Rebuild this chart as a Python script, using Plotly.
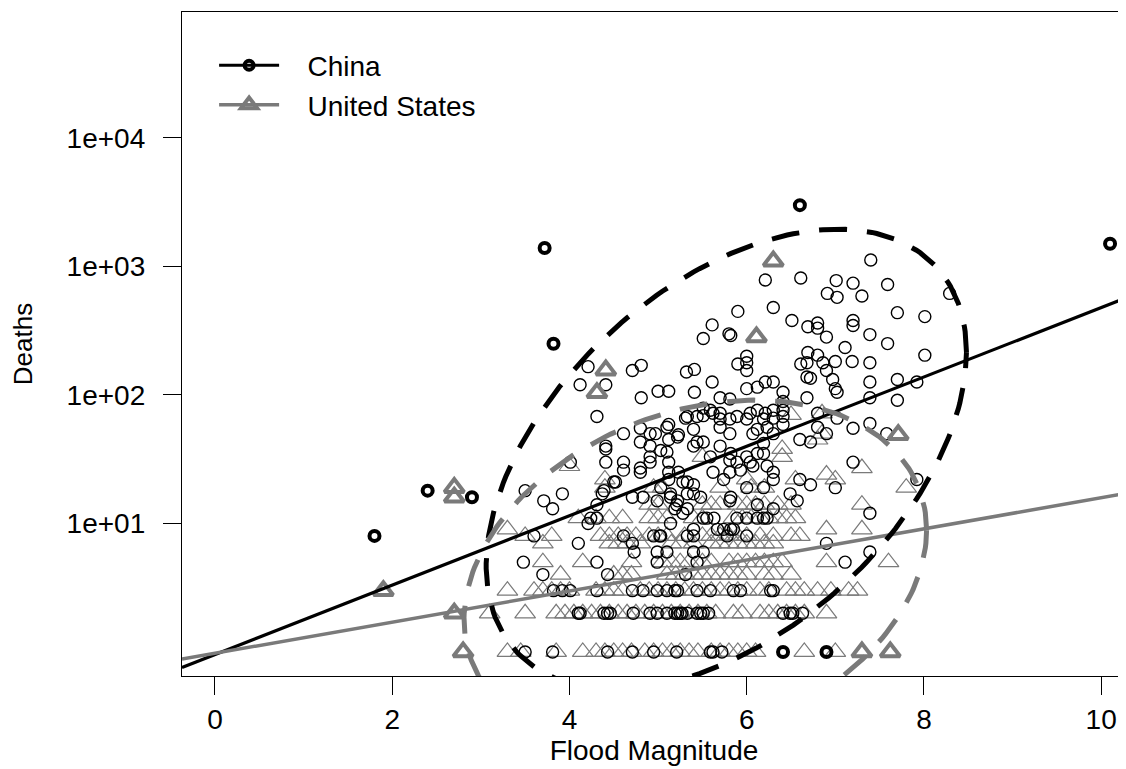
import numpy as np
import plotly.graph_objects as go

# ---------------- data ----------------
china_mag = [
    6.21, 6.61, 5.90, 6.30, 6.51, 6.69, 5.61, 5.51, 5.80, 5.82, 6.0, 6.0, 6.0, 5.9, 6.69, 6.61, 6.68, 4.71, 4.81, 5.32,
    5.41, 5.61, 4.41, 5.0, 5.12, 4.81, 5.41, 6.0, 6.12, 6.21, 6.30, 6.41, 6.41, 6.41, 5.81, 5.70, 4.31, 5.33, 5.59, 5.70,
    5.70, 6.12, 6.21, 6.30, 5.89, 6.0, 6.68,
    4.21, 4.12, 5.44, 4.8, 4.91, 5.12, 5.23, 4.61, 5.4, 5.44, 4.41, 4.41, 4.80, 4.91, 5.12, 5.1, 4.61, 4.80, 4.91, 5.12,
    5.12, 5.23, 4.01, 5.28, 5.4, 5.33, 4.5, 4.71, 4.83, 4.99, 5.14, 5.19, 5.28, 3.5, 3.71, 3.92, 3.81, 4.21, 4.31, 4.37,
    4.10, 3.6, 3.48, 4.31, 4.43, 3.7, 5.4, 5.02, 4.99, 5.1, 5.44, 4.31, 4.71, 4.83, 4.99, 5.44, 3.82, 4.12, 4.43, 4.72,
    4.91, 5.25, 5.44, 4.43, 4.71, 3.5, 3.81,
    6.80, 6.80, 6.9, 7.2, 7.2, 7.39, 7.59, 7.7, 8.01, 8.01, 7.11, 6.80, 6.68, 6.86, 7.0, 6.9, 7.19, 7.39, 6.72, 6.97,
    7.0, 7.39, 7.7, 7.92, 7.39, 7.7,
    4.97, 5.1, 5.22, 5.31, 5.51, 5.51, 5.62, 5.70, 5.40, 5.51, 5.59, 5.70, 5.81, 5.81, 6.04, 6.19, 6.23, 6.12, 6.07, 6.30,
    6.41, 6.41, 5.81, 6.0, 6.04, 5.93, 5.62, 5.81, 6.19, 6.23, 6.07, 6.60, 6.72, 6.80, 6.9, 6.80, 7.2, 7.39, 7.58, 7.2,
    6.30, 6.30, 6.60, 6.72, 7.0, 7.92, 5.48, 5.22, 5.12, 5.03, 5.14, 6.0, 5.81, 7.39, 6.0, 6.19, 6.23, 5.55, 5.67, 5.78,
    5.85, 5.14, 5.03, 4.95, 6.0, 5.40, 5.51, 6.9, 7.39, 4.99, 7.11, 5.1, 5.22, 5.59, 5.93, 6.30, 5.1, 5.22, 5.33, 5.48,
    5.57, 6.41, 6.52, 6.63, 5.62, 5.72, 4.95,
    7.40, 7.01, 7.2, 6.91, 7.02, 7.30, 7.59, 8.29, 7.02, 7.02,
    4.41, 4.61, 4.91, 5.03, 4.80, 5.33, 5.21, 5.33, 5.40, 5.82, 5.89, 6.12, 6.19, 6.30, 6.19, 6.49, 6.57, 6.30, 6.12, 5.89,
    5.82, 5.74, 5.63, 5.51, 5.40, 5.33, 4.61, 4.71, 4.52, 4.39, 4.31, 4.24, 5.31, 4.73, 6.12, 5.74, 5.82, 4.39, 4.46, 4.99,
    5.19, 5.27, 5.51, 6.49, 5.19, 5.85, 6.27, 5.21, 5.59,
    3.92, 4.01, 4.10,
]
china_deaths = [
    785, 813, 447, 479, 380, 339, 351, 275, 299, 290, 200, 178, 155, 174, 214, 174, 138, 155, 170, 151,
    158, 126, 120, 107, 107, 95, 105, 112, 115, 126, 126, 105, 89, 76, 93, 95, 68, 68, 76, 72,
    65, 76, 72, 76, 68, 65, 95,
    166, 120, 68, 55, 50, 59, 49, 50, 54, 43, 40, 30, 43, 40, 45, 36, 30, 27, 30, 30,
    25, 25, 30, 21, 20, 17, 21, 16, 16, 15, 16, 13, 12, 18, 15, 17, 13, 10, 11, 17,
    7, 8, 5, 5, 4, 4, 8, 8, 6, 6, 5, 3, 3, 3, 3, 3, 3, 2, 2, 2,
    2, 2, 2, 1, 1, 1, 1,
    363, 331, 282, 380, 347, 295, 251, 437, 407, 204, 234, 204, 178, 178, 182, 155, 182, 178, 135, 132,
    112, 126, 132, 126, 95, 91,
    50, 56, 47, 66, 69, 79, 72, 56, 40, 43, 33, 40, 65, 50, 72, 65, 56, 54, 50, 66,
    68, 59, 31, 33, 30, 26, 25, 25, 35, 28, 28, 45, 43, 72, 50, 56, 55, 60, 50, 30,
    25, 22, 22, 20, 19, 22, 16, 15, 22, 19, 17, 19, 15, 12, 11, 11, 11, 11, 9, 8,
    9, 10, 8, 8, 8, 6, 6, 7, 6, 5, 5, 3, 3, 3, 3, 3, 2, 2, 2, 2,
    2, 2, 2, 2, 1, 1, 1,
    1122, 776, 741, 617, 575, 589, 724, 617, 105, 66,
    38, 26, 33, 37, 25, 21, 14, 13, 17, 35, 30, 35, 42, 50, 19, 17, 15, 13, 11, 11,
    9, 9, 11, 11, 9, 8, 8, 7, 21, 18, 14, 11, 4, 6, 14, 22, 16, 2, 2, 2,
    2, 2, 2, 2, 3, 3, 3, 1, 1,
    3, 3, 2,
]

china_out_mag = [1.8, 2.4, 2.9, 3.72, 3.82, 6.6, 10.1, 6.41, 6.9]
china_out_deaths = [8, 18, 16, 1390, 250, 3000, 1500, 1, 1]

us_mag = [
    # deaths 1
    3.3, 3.45, 3.85, 4.15, 4.3, 4.4, 4.5, 4.6, 4.7, 4.85, 4.95, 5.05, 5.15, 5.25, 5.35, 5.45, 5.6, 5.7, 5.8, 5.9,
    6.0, 6.1, 6.65, 7.0,
    # deaths 2
    3.1, 3.5, 3.85, 3.95, 4.05, 4.15, 4.25, 4.35, 4.45, 4.55, 4.65, 4.75, 4.85, 4.95, 5.05, 5.15, 5.25, 5.35, 5.45, 5.55,
    5.65, 5.85, 5.95, 6.15, 6.25, 6.35, 6.45, 6.55, 6.65, 6.9,
    # deaths 3
    3.3, 3.6, 3.7, 3.8, 3.9, 4.0, 4.3, 4.4, 4.5, 4.6, 4.8, 4.9, 5.0, 5.1, 5.2, 5.3, 5.4, 5.5, 5.6, 5.7,
    5.8, 5.9, 6.0, 6.15, 6.25, 6.45, 6.55, 6.65, 6.8, 6.95, 7.15, 7.25,
    # deaths 4
    3.9, 4.5, 4.6, 4.7, 5.1, 5.2, 5.3, 5.4, 5.5, 5.6, 5.7, 5.8, 5.9, 6.0, 6.2, 6.3, 6.5,
    # deaths 5
    3.7, 4.15, 4.7, 5.05, 5.15, 5.25, 5.35, 5.5, 5.6, 5.8, 5.9, 6.0, 6.1, 6.2, 6.3, 6.4, 6.9, 7.6,
    # deaths 7
    3.7, 4.45, 4.55, 4.65, 4.8, 5.15, 5.25, 5.4, 5.6, 5.7, 5.8, 5.9, 6.0, 6.1, 6.2, 6.3,
    # deaths 8
    3.5, 3.8, 4.35, 4.45, 4.55, 4.65, 4.75, 4.9, 5.0, 5.1, 5.3, 5.5, 5.6, 5.7, 5.8, 5.9, 6.0, 6.15, 6.3, 6.5,
    6.6,
    # deaths 9
    3.3, 6.9, 7.3,
    # deaths 11
    4.1, 4.3, 4.45, 4.6, 4.9, 5.0, 5.1, 5.4, 5.5, 5.85, 5.95, 6.05, 6.15, 6.25, 6.35, 6.45, 6.55,
    # deaths 14
    4.9, 5.0, 5.5, 5.6, 5.7, 5.9, 6.0, 6.1, 6.2, 6.35, 6.5, 7.3,
    # deaths 19
    4.4, 4.95, 5.05, 5.7, 6.05, 6.2, 7.8,
    # higher
    4.4, 6.0, 6.55, 6.9, 7.0, 7.3, 4.0, 5.5, 6.4, 6.4, 6.8, 6.85, 6.5, 6.85,
]
us_deaths = (
    [1] * 24 + [2] * 30 + [3] * 32 + [4] * 17 + [5] * 18 + [7] * 16 + [8] * 21 + [9] * 3
    + [11] * 17 + [14] * 12 + [19] * 7
    + [22, 22, 22, 24, 22, 27, 28, 33, 33, 38, 45, 50, 70, 72]
)

us_out_mag = [1.9, 2.7, 2.7, 2.7, 2.8, 4.31, 4.41, 6.11, 6.3, 7.71, 7.3, 7.62]
us_out_deaths = [3, 19, 16, 2, 1, 104, 156, 282, 1100, 49, 1, 1]

# regression lines: log10(deaths) = intercept + slope * magnitude
china_fit = (-0.02, 0.27)
us_fit = (-0.01, 0.121)

# ellipses in (magnitude, log10 deaths): centre x, centre y, half-width, half-height, phase
china_ellipse = (5.77, 1.50, 2.71, 1.79, 1.088)
us_ellipse = (5.42, 0.60, 2.61, 1.36, 1.311)

x_ticks = [0, 2, 4, 6, 8, 10]
y_ticks = [10, 100, 1000, 10000]
y_tick_text = ["1e+01", "1e+02", "1e+03", "1e+04"]
x_range = [-0.372, 10.28]
y_range_log = [-0.187, 4.98]
legend_names = ["China", "United States"]

BLACK = "#000000"
GRAY = "#7a7a7a"
FONT = "Liberation Sans, Arial, Helvetica, sans-serif"
NBSP = "\u00a0"

# the page body keeps the browser's default 8px margin, so the figure is
# sized 8px smaller than the window and its margins shifted to compensate
PAGE_PAD = 8


def ellipse(params, n=240):
    cx, cy, ax, ay, ph = params
    t = np.linspace(0, 2 * np.pi, n)
    return cx + ax * np.cos(t), 10 ** (cy + ay * np.cos(t - ph))


def fit_line(params):
    b0, b1 = params
    xs = np.array(x_range)
    return xs, 10 ** (b0 + b1 * xs)


fig = go.Figure()

fig.add_trace(go.Scatter(x=us_mag, y=us_deaths, mode="markers", showlegend=False,
                         marker=dict(symbol="triangle-up-open", size=18, color=GRAY,
                                     line=dict(width=1.2, color=GRAY))))
fig.add_trace(go.Scatter(x=china_mag, y=china_deaths, mode="markers", showlegend=False,
                         marker=dict(symbol="circle-open", size=12, color=BLACK,
                                     line=dict(width=1.4, color=BLACK))))
fig.add_trace(go.Scatter(x=us_out_mag, y=us_out_deaths, mode="markers", showlegend=False,
                         marker=dict(symbol="triangle-up-open", size=17, color=GRAY,
                                     line=dict(width=4, color=GRAY))))
fig.add_trace(go.Scatter(x=china_out_mag, y=china_out_deaths, mode="markers", showlegend=False,
                         marker=dict(symbol="circle-open", size=10, color=BLACK,
                                     line=dict(width=4, color=BLACK))))

lx, ly = fit_line(china_fit)
fig.add_trace(go.Scatter(x=lx, y=ly, mode="lines", showlegend=False, line=dict(color=BLACK, width=3.2)))
lx, ly = fit_line(us_fit)
fig.add_trace(go.Scatter(x=lx, y=ly, mode="lines", showlegend=False, line=dict(color=GRAY, width=3.5)))

ex, ey = ellipse(china_ellipse)
fig.add_trace(go.Scatter(x=ex, y=ey, mode="lines", showlegend=False,
                         line=dict(color=BLACK, width=5, dash="28px,20px")))
ex, ey = ellipse(us_ellipse)
fig.add_trace(go.Scatter(x=ex, y=ey, mode="lines", showlegend=False,
                         line=dict(color=GRAY, width=5, dash="28px,20px")))

# legend entries
fig.add_trace(go.Scatter(x=[None], y=[None], mode="lines+markers", name=NBSP * 3 + legend_names[0],
                         line=dict(color=BLACK, width=3),
                         marker=dict(symbol="circle-open", size=9, color=BLACK, line=dict(width=4, color=BLACK))))
fig.add_trace(go.Scatter(x=[None], y=[None], mode="lines+markers", name=NBSP * 3 + legend_names[1],
                         line=dict(color=GRAY, width=3.5),
                         marker=dict(symbol="triangle-up-open", size=14, color=GRAY, line=dict(width=4, color=GRAY))))

fig.update_layout(
    width=1126 - PAGE_PAD, height=769 - PAGE_PAD,
    margin=dict(l=182 - PAGE_PAD, r=0, t=12 - PAGE_PAD, b=93, autoexpand=False),
    paper_bgcolor="white", plot_bgcolor="white",
    font=dict(family=FONT, size=28, color=BLACK),
    legend=dict(x=0.034, y=0.957, xanchor="left", yanchor="top", bgcolor="rgba(0,0,0,0)",
                font=dict(size=28), itemwidth=60, tracegroupgap=0),
    xaxis=dict(range=x_range, tickmode="array", tickvals=x_ticks, ticks="outside", ticklen=18,
               tickwidth=1.3, tickcolor=BLACK, showline=True, linecolor=BLACK, linewidth=1.3,
               mirror=True, showgrid=False, zeroline=False, tickfont=dict(size=28),
               ticklabelstandoff=0, automargin=False,
               title=dict(text="Flood Magnitude", font=dict(size=28), standoff=0)),
    yaxis=dict(type="log", range=y_range_log, tickmode="array", tickvals=y_ticks, ticktext=y_tick_text,
               ticks="outside", ticklen=18, tickwidth=1.3, tickcolor=BLACK, showline=True,
               linecolor=BLACK, linewidth=1.3, mirror=False, showgrid=False, zeroline=False,
               tickfont=dict(size=28), ticklabelstandoff=12, automargin=False,
               title=dict(text="Deaths", font=dict(size=26), standoff=26)),
)

fig.write_html("out.html")
